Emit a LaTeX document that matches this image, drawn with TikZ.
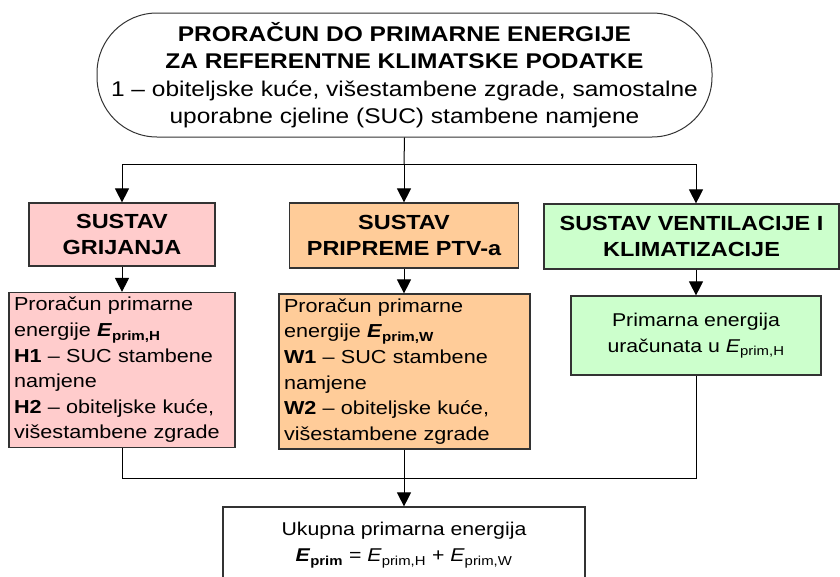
\documentclass[tikz,border=0pt]{standalone}
\usepackage{fontspec}
\setmainfont[FakeStretch=1.15]{Liberation Sans}
\usetikzlibrary{arrows.meta}
\definecolor{hpink}{HTML}{FFCCCC}
\definecolor{worange}{HTML}{FFCC99}
\definecolor{vgreen}{HTML}{CCFFCC}
\tikzset{
  % rounded title box and the coloured system boxes
  headbox/.style = {rectangle, rounded corners=60pt, draw=black!80, fill=white, line width=1pt,
                    minimum width=615pt, minimum height=124pt, align=center, inner sep=0pt,
                    font=\fontsize{21.3}{27.5}\selectfont},
  sysbox/.style  = {rectangle, draw=black!80, fill=#1, line width=1.2pt, align=center,
                    inner sep=0pt, font=\bfseries\fontsize{20.4}{26}\selectfont},
  calcbox/.style = {rectangle, draw=black!80, fill=#1, line width=1.2pt, align=left,
                    inner xsep=5pt, inner ysep=0pt, font=\fontsize{18.8}{25.6}\selectfont},
  resbox/.style  = {rectangle, draw=black!80, fill=#1, line width=1.2pt, align=center,
                    inner sep=0pt, font=\fontsize{18.5}{26}\selectfont},
  resbox/.default = white,
  link/.style    = {line width=1pt, black},
  arr/.style     = {link, -{Triangle[width=14pt,length=14pt]}},
}
\newcommand{\Ep}[1]{\textit{E}\textsubscript{#1}}

\begin{document}
\begin{tikzpicture}[x=1pt,y=-1pt]
\clip (0,0) rectangle (840,576);
% ---- title ----------------------------------------------------------
\node[headbox] (head) at (404.5,75)
  {\textbf{PRORAČUN DO PRIMARNE ENERGIJE}\\
   \textbf{ZA REFERENTNE KLIMATSKE PODATKE}\\
   1 – obiteljske kuće, višestambene zgrade, samostalne\\
   uporabne cjeline (SUC) stambene namjene};

% ---- systems --------------------------------------------------------
\node[sysbox=hpink, minimum width=186pt, minimum height=63pt] (grij) at (122,234.5)
  {SUSTAV\\GRIJANJA};
\node[sysbox=worange, minimum width=229pt, minimum height=65pt] (ptv) at (404,235.5)
  {SUSTAV\\PRIPREME PTV-a};
\node[sysbox=vgreen, minimum width=295pt, minimum height=65pt] (vent) at (691.5,236.5)
  {SUSTAV VENTILACIJE I\\KLIMATIZACIJE};

% ---- calculations ---------------------------------------------------
\node[calcbox=hpink, text width=216pt, minimum height=155pt] (grijc) at (122,370)
  {Proračun primarne\\
   energije \textbf{\Ep{prim,H}}\\
   \textbf{H1} – SUC stambene\\
   namjene\\
   \textbf{H2} – obiteljske kuće,\\
   višestambene zgrade};
\node[calcbox=worange, text width=241pt, minimum height=155pt] (ptvc) at (404.5,371.5)
  {Proračun primarne\\
   energije \textbf{\Ep{prim,W}}\\
   \textbf{W1} – SUC stambene\\
   namjene\\
   \textbf{W2} – obiteljske kuće,\\
   višestambene zgrade};
\node[resbox=vgreen, minimum width=250pt, minimum height=79pt] (ventc) at (696,335.5)
  {Primarna energija\\uračunata u \Ep{prim,H}};

% ---- total ----------------------------------------------------------
\node[resbox, minimum width=362pt, minimum height=76pt] (total) at (404,545)
  {Ukupna primarna energija\\
   \textbf{\Ep{prim}} = \Ep{prim,H} + \Ep{prim,W}};

% ---- connectors -----------------------------------------------------
\coordinate (sL) at (122,164);
\coordinate (sM) at (404,164);
\coordinate (sR) at (696,164);
\coordinate (jL) at (122,478);
\coordinate (jR) at (696,478);
\draw[link] (head.south) -- (sM);
\draw[link] (sL) -- (sR);
\draw[arr] (sL) -- (grij.north);
\draw[arr] (sM) -- (ptv.north);
\draw[arr] (sR) -- (sR |- vent.north);
\draw[arr] (grij.south) -- (grijc.north);
\draw[arr] (ptv.south) -- (ptvc.north -| ptv.south);
\draw[arr] (vent.south -| ventc.north) -- (ventc.north);
\draw[link] (grijc.south) -- (jL) -- (jR) -- (ventc.south);
\draw[arr] (ptvc.south -| total.north) -- (total.north);
\end{tikzpicture}
\end{document}
